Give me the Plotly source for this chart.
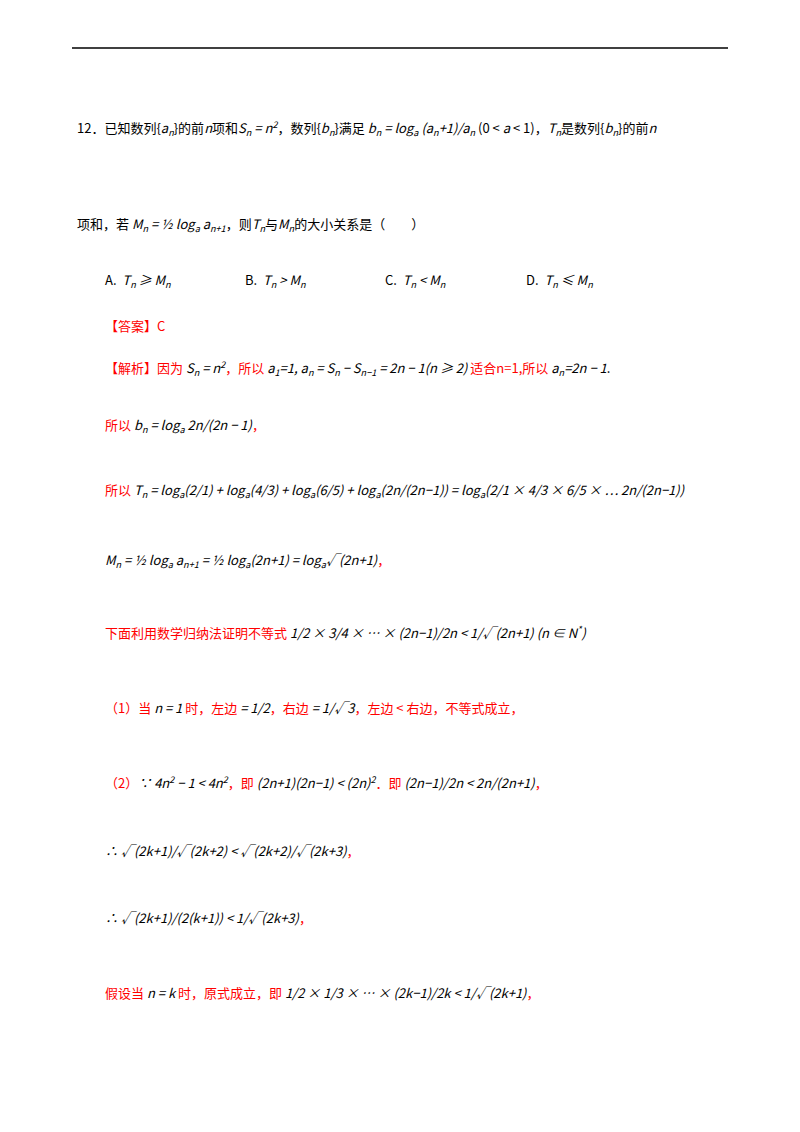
import plotly.graph_objects as go

R = "#FF0000"
K = "#000000"

def red(s):
    return f"<span style='color:{R}'>{s}</span>"

def blk(s):
    return f"<span style='color:{K}'><i>{s}</i></span>"

line_x = [75, 75, 103, 103, 103, 103, 103, 103, 103, 103, 103, 103, 103]
line_y = [128, 224, 325, 368, 425, 490, 560, 632, 707, 782, 850, 917, 992]
line_text = [
    "12．已知数列{" + blk("a<sub>n</sub>") + "}的前" + blk("n") + "项和" + blk("S<sub>n</sub> = n<sup>2</sup>")
    + "，数列{" + blk("b<sub>n</sub>") + "}满足 " + blk("b<sub>n</sub> = log<sub>a</sub>")
    + " " + blk("(a<sub>n</sub>+1)/a<sub>n</sub>") + " (0 &lt; " + blk("a") + " &lt; 1)，"
    + blk("T<sub>n</sub>") + "是数列{" + blk("b<sub>n</sub>") + "}的前" + blk("n"),
    "项和，若 " + blk("M<sub>n</sub> = ½ log<sub>a</sub> a<sub>n+1</sub>") + "，则" + blk("T<sub>n</sub>")
    + "与" + blk("M<sub>n</sub>") + "的大小关系是（　　）",
    red("【答案】C"),
    red("【解析】因为 ") + blk("S<sub>n</sub> = n<sup>2</sup>") + red("，所以 ")
    + blk("a<sub>1</sub>=1, a<sub>n</sub> = S<sub>n</sub> − S<sub>n−1</sub> = 2n − 1(n ≥ 2)")
    + red(" 适合n=1,所以 ") + blk("a<sub>n</sub>=2n − 1") + ".",
    red("所以 ") + blk("b<sub>n</sub> = log<sub>a</sub> 2n/(2n − 1)") + red("，"),
    red("所以 ") + blk("T<sub>n</sub> = log<sub>a</sub>(2/1) + log<sub>a</sub>(4/3) + log<sub>a</sub>(6/5) + log<sub>a</sub>(2n/(2n−1)) = log<sub>a</sub>(2/1 × 4/3 × 6/5 × ⋯ 2n/(2n−1))"),
    blk("M<sub>n</sub> = ½ log<sub>a</sub> a<sub>n+1</sub> = ½ log<sub>a</sub>(2n+1) = log<sub>a</sub>√(2n+1)") + red("，"),
    red("下面利用数学归纳法证明不等式 ") + blk("1/2 × 3/4 × … × (2n−1)/2n &lt; 1/√(2n+1) (n ∈ N<sup>*</sup>)"),
    red("（1）当 ") + blk("n = 1") + red(" 时，左边 ") + blk("= 1/2") + red("，右边 ") + blk("= 1/√3")
    + red("，左边 &lt; 右边，不等式成立，"),
    red("（2）") + blk("∵ 4n<sup>2</sup> − 1 &lt; 4n<sup>2</sup>") + red("，即 ") + blk("(2n+1)(2n−1) &lt; (2n)<sup>2</sup>")
    + red("．即 ") + blk("(2n−1)/2n &lt; 2n/(2n+1)") + red("，"),
    blk("∴ √(2k+1)/√(2k+2) &lt; √(2k+2)/√(2k+3)") + red("，"),
    blk("∴ √(2k+1)/(2(k+1)) &lt; 1/√(2k+3)") + red("，"),
    red("假设当 ") + blk("n = k") + red(" 时，原式成立，即 ") + blk("1/2 × 1/3 × … × (2k−1)/2k &lt; 1/√(2k+1)") + red("，"),
]

opt_x = [103, 243, 383, 524]
opt_y = [280, 280, 280, 280]
opt_text = ["A.  " + blk("T<sub>n</sub> ≥ M<sub>n</sub>"), "B.  " + blk("T<sub>n</sub> &gt; M<sub>n</sub>"),
            "C.  " + blk("T<sub>n</sub> &lt; M<sub>n</sub>"), "D.  " + blk("T<sub>n</sub> ≤ M<sub>n</sub>")]

fig = go.Figure()
anns = []
for x, y, t in zip(line_x + opt_x, line_y + opt_y, line_text + opt_text):
    anns.append(dict(x=x, y=y, xref="x", yref="y", text=t, showarrow=False,
                     xanchor="left", yanchor="middle", align="left",
                     font=dict(family="Noto Sans CJK SC, Liberation Serif", size=13, color=K)))
fig.update_layout(
    width=800, height=1132, margin=dict(l=0, r=0, t=0, b=0),
    paper_bgcolor="white", plot_bgcolor="white",
    xaxis=dict(range=[8, 808], visible=False, fixedrange=True),
    yaxis=dict(range=[1140, 8], visible=False, fixedrange=True),
    annotations=anns,
    shapes=[dict(type="line", x0=72, x1=728, y0=48, y1=48, xref="x", yref="y",
                 line=dict(color="black", width=1.5))],
    showlegend=False,
)
fig.write_html("out.html")
